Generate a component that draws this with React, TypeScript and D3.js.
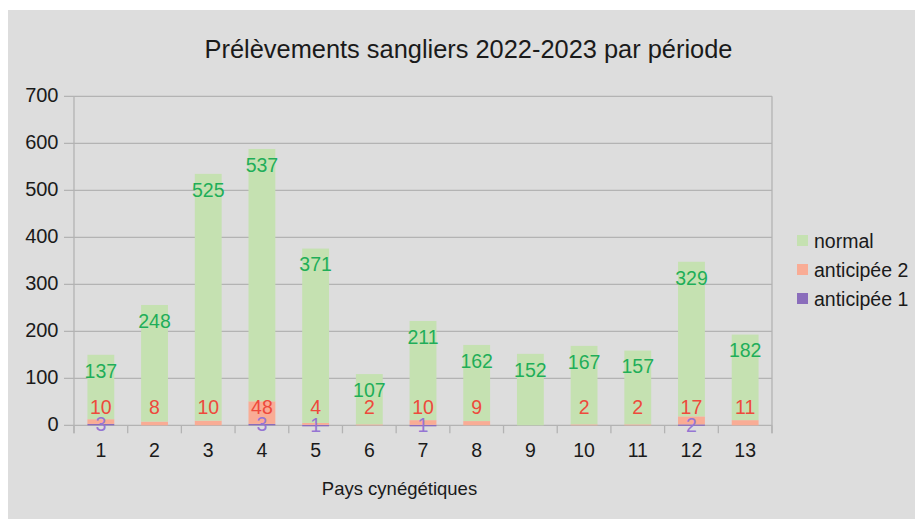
import React from "react";
import * as d3 from "d3";

const categories = ["1", "2", "3", "4", "5", "6", "7", "8", "9", "10", "11", "12", "13"];
const normal = [137, 248, 525, 537, 371, 107, 211, 162, 152, 167, 157, 329, 182];
const anticipee2 = [10, 8, 10, 48, 4, 2, 10, 9, 0, 2, 2, 17, 11];
const anticipee1 = [3, 0, 0, 3, 1, 0, 1, 0, 0, 0, 0, 2, 0];
const yTicks = [0, 100, 200, 300, 400, 500, 600, 700];
const seriesNames = ["normal", "anticipée 2", "anticipée 1"];

const W = 915;
const H = 519;
const left = 74;
const right = 772;
const top = 96.3;
const bottom = 425.3;

const colNormal = "#c5e1b1";
const colA2 = "#f9ac95";
const colA1 = "#8a6dbb";
const lblNormal = "#1fae59";
const lblA2 = "#ee4a3c";
const lblA1 = "#9575d3";
const gridCol = "#b3b3b3";
const font = "'Liberation Sans', Arial, sans-serif";

export default function App() {
  const x = d3.scaleBand<string>().domain(categories).range([left, right]).paddingInner(0.5).paddingOuter(0.25);
  const y = d3.scaleLinear().domain([0, 700]).range([bottom, top]);
  const step = x.step();
  const boundaries = d3.range(categories.length + 1).map((i) => left + i * step);

  const data = categories.map((c, i) => ({ c, n: normal[i], a2: anticipee2[i], a1: anticipee1[i] }));
  const legendColors = [colNormal, colA2, colA1];
  const lblSize = 19.5;

  return (
    <svg width={W} height={H} style={{ position: "fixed", left: 0, top: 0, background: "#fff" }} fontFamily={font}>
      <rect x={8} y={10} width={W - 8} height={H - 10} fill="#dddddd" />
      <text x={468.5} y={58} fontSize={25.4} textAnchor="middle" fill="#1a1a1a">
        Prélèvements sangliers 2022-2023 par période
      </text>
      {/* gridlines */}
      {yTicks.map((t) => (
        <g key={t}>
          <line x1={left - 10} x2={right} y1={y(t)} y2={y(t)} stroke={gridCol} strokeWidth={1.3} />
          <text x={58.5} y={y(t) - 1.5} dy="0.35em" fontSize={20} textAnchor="end" fill="#1a1a1a">
            {t}
          </text>
        </g>
      ))}
      <line x1={left} x2={left} y1={top} y2={bottom + 8} stroke={gridCol} strokeWidth={1.3} />
      <line x1={right} x2={right} y1={top} y2={bottom + 8} stroke={gridCol} strokeWidth={1.3} />
      {boundaries.map((b, i) => (
        <line key={i} x1={b} x2={b} y1={bottom} y2={bottom + 8} stroke={gridCol} strokeWidth={1.3} />
      ))}
      {/* bars */}
      {data.map((d) => {
        const bx = x(d.c)!;
        const bw = x.bandwidth();
        return (
          <g key={d.c}>
            {d.a1 > 0 && <rect x={bx} y={y(d.a1)} width={bw} height={Math.max(y(0) - y(d.a1), 1.5)} fill={colA1} />}
            {d.a2 > 0 && <rect x={bx} y={y(d.a1 + d.a2)} width={bw} height={y(d.a1) - y(d.a1 + d.a2)} fill={colA2} />}
            <rect x={bx} y={y(d.a1 + d.a2 + d.n)} width={bw} height={y(d.a1 + d.a2) - y(d.a1 + d.a2 + d.n)} fill={colNormal} />
          </g>
        );
      })}
      {/* labels */}
      {data.map((d) => {
        const cx = x(d.c)! + x.bandwidth() / 2;
        const a2y = Math.min(y(d.a1 + d.a2 / 2), y(0) - 18.5);
        return (
          <g key={"l" + d.c} fontSize={lblSize} textAnchor="middle">
            <text x={cx} y={y(d.a1 + d.a2 + d.n) + 16} dy="0.35em" fill={lblNormal}>
              {d.n}
            </text>
            {d.a2 > 0 && (
              <text x={cx} y={a2y} dy="0.35em" fill={lblA2}>
                {d.a2}
              </text>
            )}
            {d.a1 > 0 && (
              <text x={cx} y={y(d.a1 / 2)} dy="0.35em" fill={lblA1}>
                {d.a1}
              </text>
            )}
            <text x={cx} y={457} fontSize={19.5} fill="#1a1a1a">
              {d.c}
            </text>
          </g>
        );
      })}
      <text x={399.5} y={495} fontSize={18.5} textAnchor="middle" fill="#1a1a1a">
        Pays cynégétiques
      </text>
      {/* legend */}
      {seriesNames.map((s, i) => (
        <g key={s}>
          <rect x={797} y={235 + i * 29} width={11} height={11} fill={legendColors[i]} />
          <text x={814} y={240.7 + i * 29} dy="0.35em" fontSize={19.5} fill="#1a1a1a">
            {s}
          </text>
        </g>
      ))}
    </svg>
  );
}
